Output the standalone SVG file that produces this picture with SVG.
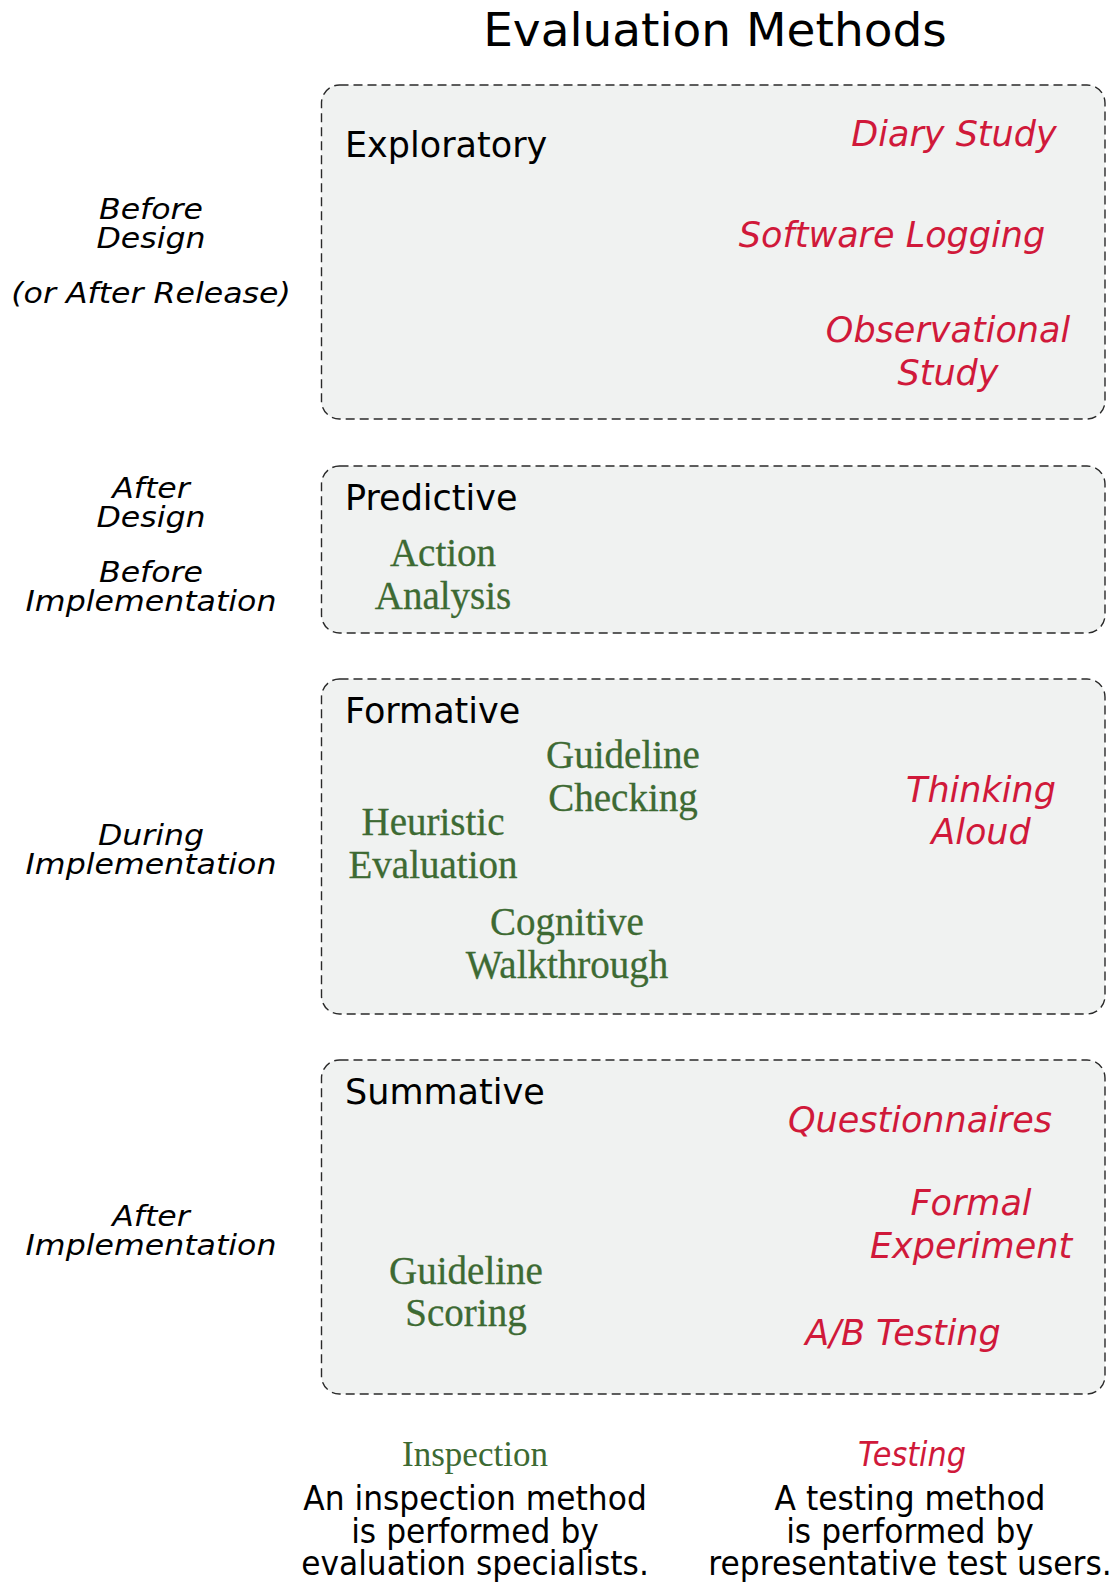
<svg xmlns="http://www.w3.org/2000/svg" width="1117" height="1585" viewBox="0 0 1117 1585">
<style>
.box{fill:#f0f2f1;stroke:#2a2a2a;stroke-width:1.4;stroke-dasharray:9 5}
.title{font-family:"DejaVu Sans",Verdana,sans-serif;font-size:47px;fill:#000;text-anchor:middle}
.hdr{font-family:"DejaVu Sans",Verdana,sans-serif;font-size:35px;fill:#000}
.test{font-family:"DejaVu Sans",Verdana,sans-serif;font-style:italic;font-size:35px;fill:#d0193a;text-anchor:middle}
.insp{font-family:"Liberation Serif","Times New Roman",serif;font-size:39px;fill:#3d6a33;text-anchor:middle;stroke:#3d6a33;stroke-width:0.3}
.phase{font-family:"DejaVu Sans",Verdana,sans-serif;font-style:italic;font-size:29px;fill:#000;text-anchor:middle}
.body{font-family:"DejaVu Sans",Verdana,sans-serif;font-size:33px;fill:#000;text-anchor:middle}
</style>
<rect width="1117" height="1585" fill="#fff"/>
<g id="title"><text class="title" x="715" y="46">Evaluation Methods</text></g>

<g id="phases">
<g id="phase-before-design" transform="translate(151,0) scale(1.09,1)">
<text class="phase" x="0" y="219">Before</text>
<text class="phase" x="0" y="248">Design</text>
<text class="phase" x="0" y="303">(or After Release)</text>
</g>
<g id="phase-after-design" transform="translate(151,0) scale(1.09,1)">
<text class="phase" x="0" y="498">After</text>
<text class="phase" x="0" y="527">Design</text>
<text class="phase" x="0" y="582">Before</text>
<text class="phase" x="0" y="611">Implementation</text>
</g>
<g id="phase-during" transform="translate(151,0) scale(1.09,1)">
<text class="phase" x="0" y="845">During</text>
<text class="phase" x="0" y="874">Implementation</text>
</g>
<g id="phase-after" transform="translate(151,0) scale(1.09,1)">
<text class="phase" x="0" y="1226">After</text>
<text class="phase" x="0" y="1255">Implementation</text>
</g>
</g>

<g id="exploratory">
<rect class="box" x="321.5" y="85" width="783.5" height="334" rx="18"/>
<text class="hdr" x="345" y="157">Exploratory</text>
</g>
<g id="diary-study"><text class="test" x="954" y="146">Diary Study</text></g>
<g id="software-logging"><text class="test" x="892" y="247">Software Logging</text></g>
<g id="observational-study"><text class="test" x="948" y="342">Observational</text><text class="test" x="948" y="385">Study</text></g>

<g id="predictive">
<rect class="box" x="321.5" y="466" width="783.5" height="167" rx="18"/>
<text class="hdr" x="345" y="510">Predictive</text>
</g>
<g id="action-analysis"><text class="insp" x="443" y="566">Action</text><text class="insp" x="443" y="609">Analysis</text></g>

<g id="formative">
<rect class="box" x="321.5" y="679" width="783.5" height="335" rx="18"/>
<text class="hdr" x="345" y="723">Formative</text>
</g>
<g id="guideline-checking"><text class="insp" x="623" y="768">Guideline</text><text class="insp" x="623" y="811">Checking</text></g>
<g id="heuristic-evaluation"><text class="insp" x="433" y="835">Heuristic</text><text class="insp" x="433" y="878">Evaluation</text></g>
<g id="cognitive-walkthrough"><text class="insp" x="567" y="935">Cognitive</text><text class="insp" x="567" y="978">Walkthrough</text></g>
<g id="thinking-aloud"><text class="test" x="981" y="802">Thinking</text><text class="test" x="981" y="844">Aloud</text></g>

<g id="summative">
<rect class="box" x="321.5" y="1060" width="783.5" height="334" rx="18"/>
<text class="hdr" x="345" y="1104">Summative</text>
</g>
<g id="questionnaires"><text class="test" x="920" y="1132">Questionnaires</text></g>
<g id="formal-experiment"><text class="test" x="971" y="1215">Formal</text><text class="test" x="971" y="1258">Experiment</text></g>
<g id="ab-testing"><text class="test" x="903" y="1345">A/B Testing</text></g>
<g id="guideline-scoring"><text class="insp" x="466" y="1284">Guideline</text><text class="insp" x="466" y="1326">Scoring</text></g>

<g id="connectors"></g>

<g id="legend-inspection">
<text class="insp" x="475" y="1466" style="font-size:35px;stroke-width:0">Inspection</text>
<g transform="translate(475,0) scale(0.95,1)">
<text class="body" x="0" y="1510">An inspection method</text>
<text class="body" x="0" y="1543">is performed by</text>
<text class="body" x="0" y="1575">evaluation specialists.</text>
</g>
</g>
<g id="legend-testing">
<g transform="translate(912,0) scale(0.92,1)"><text class="test" x="0" y="1466" style="font-size:33px">Testing</text></g>
<g transform="translate(910,0) scale(0.95,1)">
<text class="body" x="0" y="1510">A testing method</text>
<text class="body" x="0" y="1543">is performed by</text>
<text class="body" x="0" y="1575">representative test users.</text>
</g>
</g>
</svg>
